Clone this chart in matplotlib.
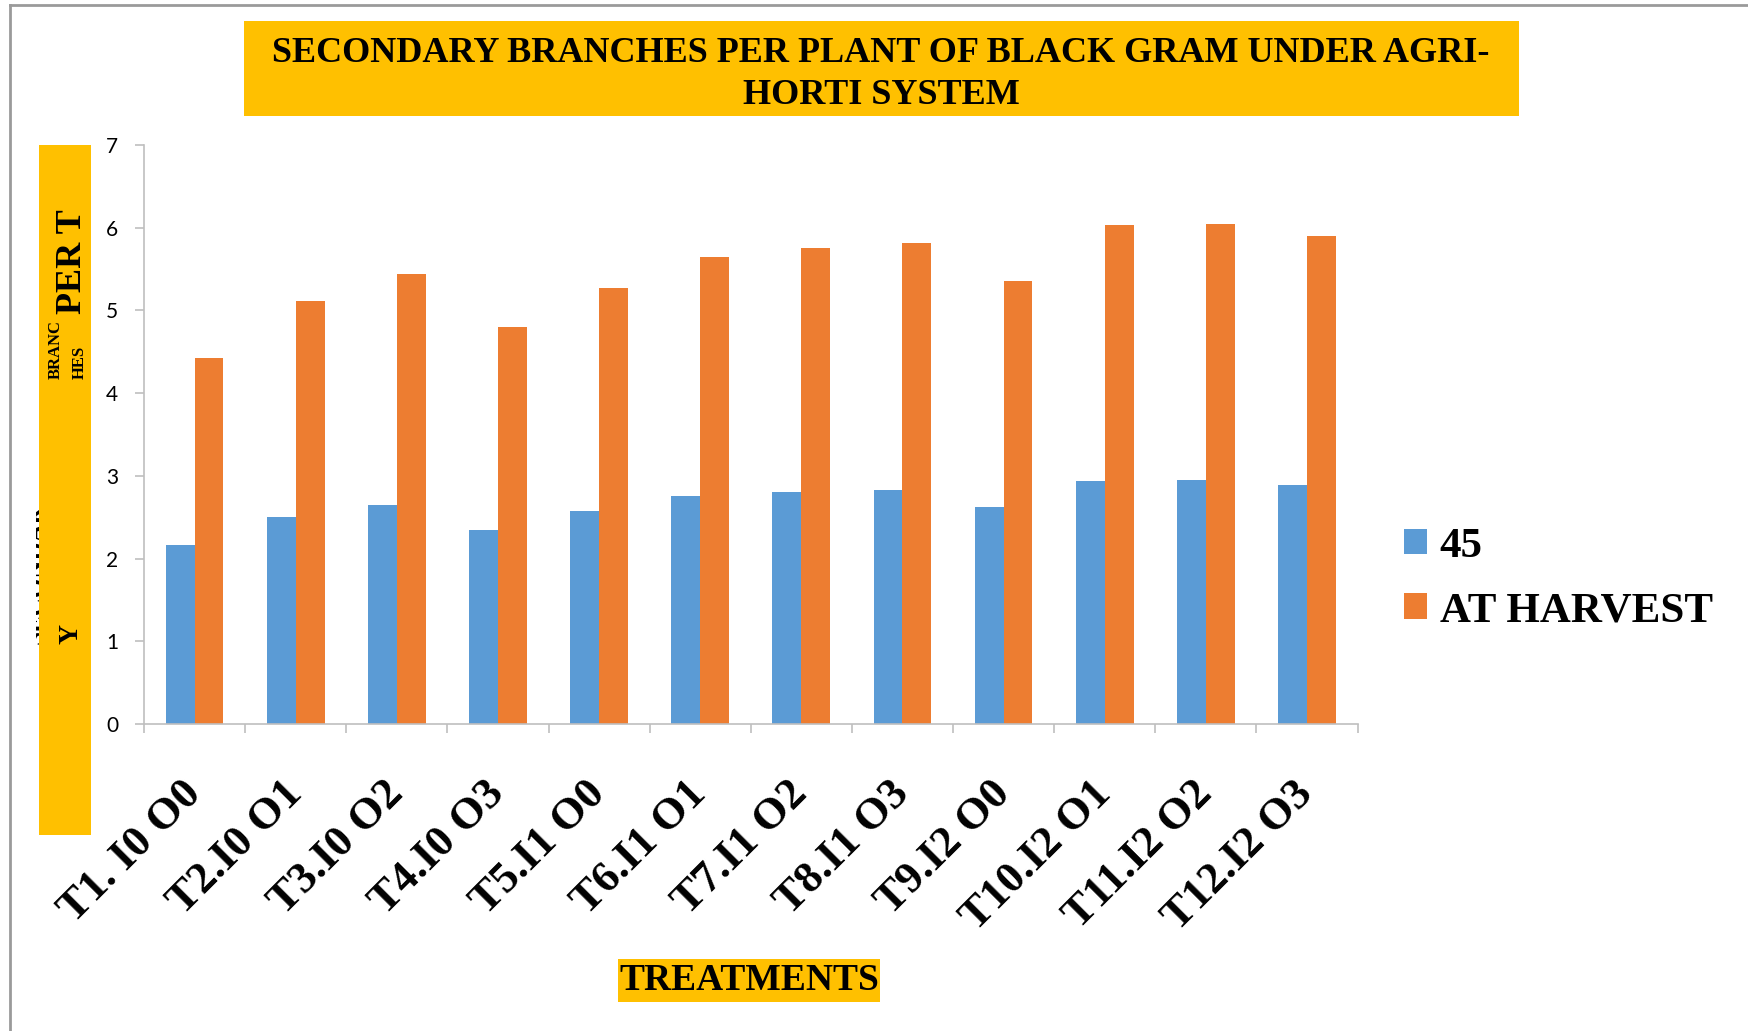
import numpy as np
import matplotlib
matplotlib.use("Agg")
import matplotlib.pyplot as plt
from matplotlib.patches import Rectangle
from matplotlib.lines import Line2D

# ---- data ----
treatments = ["T1. I0 O0", "T2.I0 O1", "T3.I0 O2", "T4.I0 O3", "T5.I1 O0", "T6.I1 O1",
              "T7.I1 O2", "T8.I1 O3", "T9.I2 O0", "T10.I2 O1", "T11.I2 O2", "T12.I2 O3"]
series_names = ["45", "AT HARVEST"]
branches_45 = [2.17, 2.50, 2.65, 2.35, 2.57, 2.76, 2.81, 2.83, 2.62, 2.94, 2.95, 2.89]
branches_harvest = [4.43, 5.12, 5.44, 4.80, 5.27, 5.64, 5.76, 5.81, 5.36, 6.03, 6.05, 5.90]
y_ticks = [0, 1, 2, 3, 4, 5, 6, 7]

W, H = 1749, 1031
BLUE = "#5B9BD5"
ORANGE = "#ED7D31"
GOLD = "#FFC000"
GRID_GREY = "#BFBFBF"
SERIF = "Liberation Serif"


def fx(px):
    return px / W


def fy(py):
    return 1 - py / H


fig = plt.figure(figsize=(W / 100, H / 100), dpi=100)
fig.patch.set_facecolor("white")

# outer frame (top and left edges)
fig.add_artist(Line2D([fx(10), 1], [fy(5), fy(5)], color="#9A9A9A", lw=2.0,
                      transform=fig.transFigure))
fig.add_artist(Line2D([fx(10), fx(10)], [fy(5), 0], color="#9A9A9A", lw=2.0,
                      transform=fig.transFigure))

# plot area
ax = fig.add_axes([fx(144), fy(724), fx(1357.5) - fx(144), fy(145) - fy(724)])
x = np.arange(len(treatments))
bw = 0.286
bars1 = ax.bar(x - bw / 2, branches_45, bw, color=BLUE, label=series_names[0])
bars2 = ax.bar(x + bw / 2, branches_harvest, bw, color=ORANGE, label=series_names[1])

ax.set_xlim(-0.5, len(treatments) - 0.5)
ax.set_ylim(0, 7)
ax.set_yticks(y_ticks)
ax.set_yticklabels([str(v) for v in y_ticks], fontfamily="Lato", fontsize=15)
ax.set_xticks(x)
ax.set_xticklabels(treatments, rotation=45, ha="right", va="center",
                   rotation_mode="anchor", fontsize=32, fontweight="bold",
                   fontfamily=SERIF)
ax.set_xticks(np.arange(-0.5, len(treatments)), minor=True)
ax.tick_params(axis="x", which="major", length=0, pad=46)
ax.tick_params(axis="x", which="minor", length=6.5, color=GRID_GREY, width=1.2)
ax.tick_params(axis="y", length=6.5, color=GRID_GREY, width=1.2, pad=12)

for side in ("top", "right"):
    ax.spines[side].set_visible(False)
for side in ("left", "bottom"):
    ax.spines[side].set_color(GRID_GREY)
    ax.spines[side].set_linewidth(1.2)

# legend
leg = ax.legend(handles=[bars1, bars2], loc="center left",
                bbox_to_anchor=(fx(1404), fy(579)), bbox_transform=fig.transFigure,
                frameon=False, borderpad=0, borderaxespad=0,
                handlelength=0.53, handleheight=0.53, handletextpad=0.3,
                labelspacing=0.62,
                prop={"family": SERIF, "weight": "bold", "size": 31})

# title banner
fig.add_artist(Rectangle((fx(244), fy(116)), fx(1519) - fx(244), fy(21) - fy(116),
                         transform=fig.transFigure, facecolor=GOLD, edgecolor="none"))
fig.text(fx(881), fy(62), "SECONDARY BRANCHES PER PLANT OF BLACK GRAM UNDER AGRI-",
         ha="center", va="baseline", fontsize=26, fontweight="bold", fontfamily=SERIF)
fig.text(fx(881), fy(104), "HORTI SYSTEM",
         ha="center", va="baseline", fontsize=26, fontweight="bold", fontfamily=SERIF)

# y-axis title banner
fig.add_artist(Rectangle((fx(39), fy(835)), fx(91) - fx(39), fy(145) - fy(835),
                         transform=fig.transFigure, facecolor=GOLD, edgecolor="none"))
fig.text(fx(73), fy(262), "PER T", rotation=90, ha="center", va="center",
         fontsize=26, fontweight="bold", fontfamily=SERIF)
fig.text(fx(56), fy(350), "BRANC", rotation=90, ha="center", va="center",
         fontsize=12, fontweight="bold", fontfamily=SERIF)
fig.text(fx(79.5), fy(362), "HES", rotation=90, ha="center", va="center",
         fontsize=12, fontweight="bold", fontfamily=SERIF)
fig.text(fx(70.5), fy(634.5), "Y", rotation=90, ha="center", va="center",
         fontsize=20, fontweight="bold", fontfamily=SERIF)

# only a thin sliver of the first title line shows at the banner edge
sliver = fig.add_axes([fx(36.5), fy(645), fx(42.5) - fx(36.5), fy(503) - fy(645)])
sliver.set_axis_off()
sliver.set_xlim(0, 1)
sliver.set_ylim(0, 1)
sliver.text(1.0, 0.5, "SECONDAR", rotation=90, ha="center", va="baseline",
            rotation_mode="anchor", fontsize=18, fontweight="bold",
            fontfamily=SERIF, clip_on=True, transform=sliver.transAxes)

# x-axis title banner
fig.add_artist(Rectangle((fx(618), fy(1002)), fx(880) - fx(618), fy(959) - fy(1002),
                         transform=fig.transFigure, facecolor=GOLD, edgecolor="none"))
fig.text(fx(749), fy(981), "TREATMENTS", ha="center", va="center",
         fontsize=27, fontweight="bold", fontfamily=SERIF)

fig.savefig("out.png", dpi=100)
